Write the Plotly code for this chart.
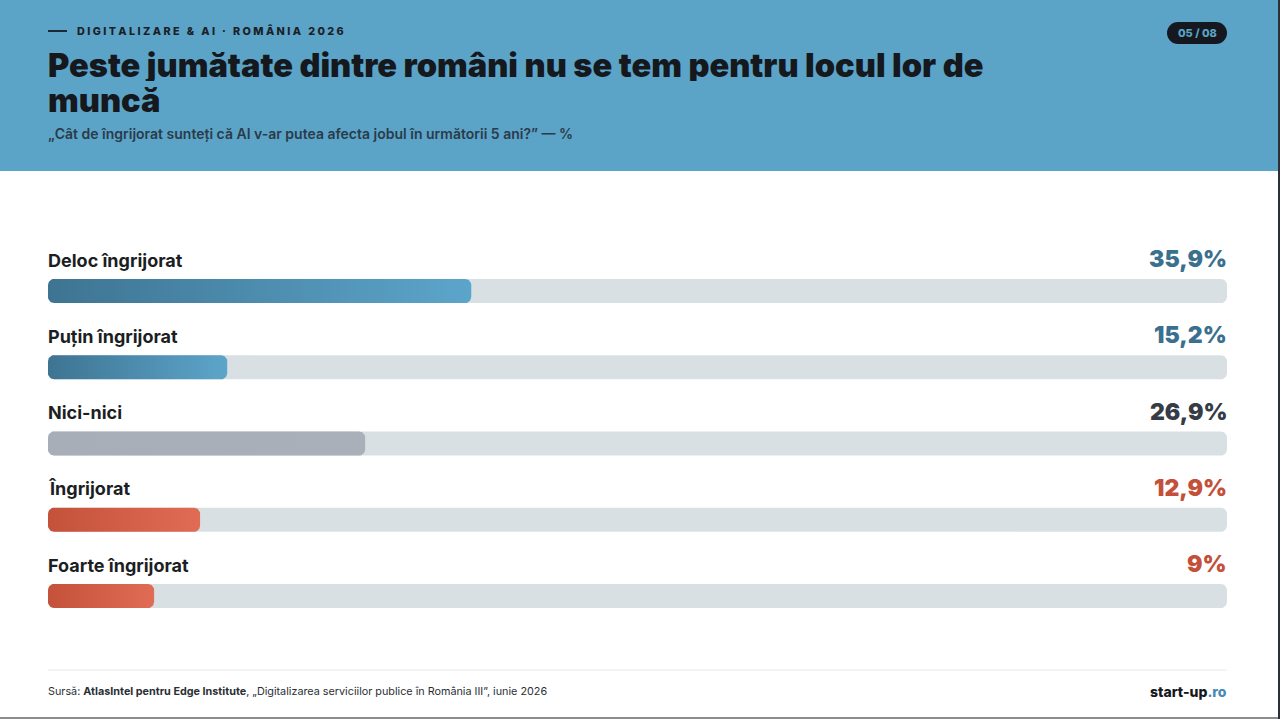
import numpy as np
import plotly.graph_objects as go

# ---------------- data ----------------
categories = ["Deloc îngrijorat", "Puțin îngrijorat", "Nici-nici", "Îngrijorat", "Foarte îngrijorat"]
values = [35.9, 15.2, 26.9, 12.9, 9.0]
value_labels = ["35,9%", "15,2%", "26,9%", "12,9%", "9%"]
groups = ["calm", "calm", "neutral", "worried", "worried"]

kicker = "DIGITALIZARE & AI · ROMÂNIA 2026"
title_lines = ["Peste jumătate dintre români nu se tem pentru locul lor de", "muncă"]
subtitle = "„Cât de îngrijorat sunteți că AI v-ar putea afecta jobul în următorii 5 ani?” — %"
badge = "05 / 08"
source = ("Sursă: <b>AtlasIntel pentru Edge Institute</b>, "
          "„Digitalizarea serviciilor publice în România III”, iunie 2026")
brand = "start-up<span style='color:#4a8ab3'>.ro</span>"

# ---------------- layout constants ----------------
W, H = 1280, 719
X0, X1 = 48, 1227          # track pixel extent
ROW0, ROW_STEP = 291, 76.25
BAR_H = 24
RADIUS = 6
TRACK = "#d9e0e4"
HEADER_BG = "#5ba4c8"
FONT = "Inter"
PAD = 2  # annotation inner padding in px

palette = {
    "calm": dict(grad=["#3e7492", "#5ca5ca"], text="#3b6f8e"),
    "neutral": dict(grad=["#a7aeb8", "#a9b0ba"], text="#363c45"),
    "worried": dict(grad=["#c4513a", "#e16c55"], text="#c4503a"),
}


def px(x):
    return x / W


def py(y):
    return 1 - y / H


def rounded_rect(xa, xb, yc, h, r):
    """Closed path of a rounded rectangle; x in data units, y in pixel units."""
    rx = r * 100 / (X1 - X0)
    ya, yb = yc - h / 2, yc + h / 2
    t = np.linspace(0, np.pi / 2, 10)
    xs, ys = [], []
    xs += list(xb - rx + rx * np.sin(t)); ys += list(ya + r - r * np.cos(t))
    xs += list(xb - rx + rx * np.cos(t)); ys += list(yb - r + r * np.sin(t))
    xs += list(xa + rx - rx * np.sin(t)); ys += list(yb - r + r * np.cos(t))
    xs += list(xa + rx - rx * np.cos(t)); ys += list(ya + r - r * np.sin(t))
    xs.append(xs[0]); ys.append(ys[0])
    return xs, ys


fig = go.Figure()
annotations = []

for i, (cat, val, lab, g) in enumerate(zip(categories, values, value_labels, groups)):
    yc = ROW0 + ROW_STEP * i
    tx, ty = rounded_rect(0, 100, yc, BAR_H, RADIUS)
    fig.add_trace(go.Scatter(x=tx, y=ty, mode="lines", fill="toself", fillcolor=TRACK,
                             line=dict(width=0, color="rgba(0,0,0,0)"), hoverinfo="skip",
                             showlegend=False))
    bx, by = rounded_rect(0, val, yc, BAR_H, RADIUS)
    c0, c1 = palette[g]["grad"]
    fig.add_trace(go.Scatter(x=bx, y=by, mode="lines", fill="toself",
                             fillgradient=dict(type="horizontal", colorscale=[[0, c0], [1, c1]]),
                             line=dict(width=0, color="rgba(0,0,0,0)"), hoverinfo="skip",
                             showlegend=False))
    annotations.append(dict(x=px(X0 - PAD), y=yc - 31, xref="paper", yref="y", text=cat,
                            showarrow=False, xanchor="left", yanchor="middle",
                            font=dict(family=FONT, size=18, color="#1b1e23", weight=700)))
    annotations.append(dict(x=px(X1 + PAD), y=yc - 32, xref="paper", yref="y", text=lab,
                            showarrow=False, xanchor="right", yanchor="middle",
                            font=dict(family=FONT, size=23, color=palette[g]["text"], weight=900)))

# header texts
spaced_kicker = "\u2009\u200a".join(kicker)
header = [
    dict(x=px(77 - PAD), y=py(31), text=spaced_kicker, xanchor="left",
         font=dict(family=FONT, size=10.8, color="#1b2027", weight=800)),
    dict(x=px(48 - PAD), y=py(65), text=title_lines[0], xanchor="left", height=32,
         font=dict(family=FONT, size=32.6, color="#15181d", weight=900)),
    dict(x=px(48 - PAD), y=py(100), text=title_lines[1], xanchor="left", height=32,
         font=dict(family=FONT, size=32.6, color="#15181d", weight=900)),
    dict(x=px(48 - PAD), y=py(133), text=subtitle, xanchor="left",
         font=dict(family=FONT, size=14, color="#2a3b49", weight=600)),
    dict(x=px(1197), y=py(33), text=badge, xanchor="center",
         font=dict(family=FONT, size=11, color="#5ba4c8", weight=800)),
    dict(x=px(48 - PAD), y=py(691), text=source, xanchor="left",
         font=dict(family=FONT, size=10.8, color="#2b2f35")),
    dict(x=px(1227 + PAD), y=py(691), text=brand, xanchor="right",
         font=dict(family=FONT, size=14, color="#15181d", weight=800)),
]
for a in header:
    a.update(xref="paper", yref="paper", showarrow=False, yanchor="middle")
annotations += header

shapes = [
    dict(type="rect", xref="paper", yref="paper", x0=0, x1=1, y0=py(171), y1=1,
         fillcolor=HEADER_BG, line=dict(width=0), layer="below"),
    dict(type="line", xref="paper", yref="paper", x0=px(48), x1=px(67), y0=py(31), y1=py(31),
         line=dict(color="#1b2a36", width=2)),
    dict(type="rect", xref="paper", yref="paper", x0=px(1178), x1=px(1216), y0=py(44), y1=py(22),
         fillcolor="#15191f", line=dict(width=0)),
    dict(type="circle", xref="paper", yref="paper", x0=px(1167), x1=px(1189), y0=py(44), y1=py(22),
         fillcolor="#15191f", line=dict(width=0)),
    dict(type="circle", xref="paper", yref="paper", x0=px(1205), x1=px(1227), y0=py(44), y1=py(22),
         fillcolor="#15191f", line=dict(width=0)),
    dict(type="line", xref="paper", yref="paper", x0=px(48), x1=px(1227), y0=py(670), y1=py(670),
         line=dict(color="#e5e8eb", width=1)),
    dict(type="rect", xref="paper", yref="paper", x0=px(1278), x1=1, y0=0, y1=1,
         fillcolor="#2b3038", line=dict(width=0)),
    dict(type="rect", xref="paper", yref="paper", x0=0, x1=px(1278), y0=0, y1=py(717),
         fillcolor="#8a8c8f", line=dict(width=0)),
]

fig.update_layout(
    width=W, height=H,
    margin=dict(l=0, r=0, t=0, b=0),
    paper_bgcolor="white", plot_bgcolor="rgba(0,0,0,0)",
    xaxis=dict(domain=[px(X0), px(X1)], range=[0, 100], visible=False, fixedrange=True),
    yaxis=dict(domain=[0, 1], range=[H, 0], visible=False, fixedrange=True),
    annotations=annotations,
    shapes=shapes,
    showlegend=False,
    hovermode=False,
)

fig.write_html("out.html", config={"displayModeBar": False})
